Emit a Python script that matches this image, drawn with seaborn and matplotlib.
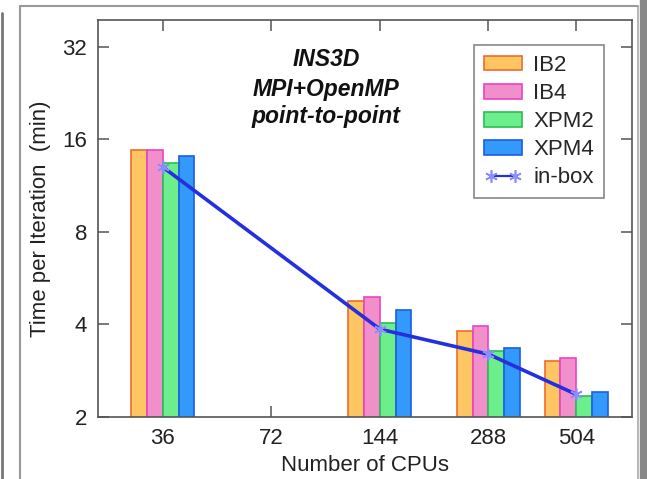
import matplotlib
matplotlib.use("Agg")
import matplotlib.pyplot as plt
import numpy as np
import pandas as pd
import seaborn as sns
from matplotlib.lines import Line2D
from matplotlib.patches import Patch

# ── Data ──────────────────────────────────────────────────────────────────────
cpus = [36, 144, 288, 504]
tick_cpus = [36, 72, 144, 288, 504]
series = ["IB2", "IB4", "XPM2", "XPM4"]
ib2 = [14.8, 4.75, 3.80, 3.05]
ib4 = [14.8, 4.90, 3.95, 3.10]
xpm2 = [13.4, 4.05, 3.27, 2.34]
xpm4 = [14.1, 4.47, 3.35, 2.41]
inbox = [13.0, 3.86, 3.20, 2.37]

fills = ["#fec663", "#f08fca", "#6cee8c", "#3399fa"]
edges = ["#f06a2e", "#e844c6", "#2dbb55", "#1a5fe0"]

df = pd.DataFrame({
    "cpus": np.tile(cpus, len(series)),
    "series": np.repeat(series, len(cpus)),
    "time": ib2 + ib4 + xpm2 + xpm4,
})

sns.set_style("ticks")
plt.rcParams["font.family"] = ["Liberation Sans", "DejaVu Sans"]
plt.rcParams["xtick.direction"] = "in"
plt.rcParams["ytick.direction"] = "in"

fig = plt.figure(figsize=(6.47, 4.79), dpi=100)
ax = fig.add_axes([98 / 647, 1 - 417 / 479, (632 - 98) / 647, (417 - 20) / 479])

# log2 x through seaborn; y goes log after the bars are drawn from zero
sns.barplot(data=df, x="cpus", y="time", hue="series", hue_order=series,
            palette=fills, native_scale=True, log_scale=(2, False), width=0.72,
            gap=0, legend=False, saturation=1, ax=ax)
for cont, ec in zip(ax.containers, edges):
    for bar in cont:
        bar.set_edgecolor(ec)
        bar.set_linewidth(1.2)
ax.set_yscale("log", base=2)

sns.lineplot(x=cpus, y=inbox, color="#2430e0", lw=2.6, marker=(6, 2, 0),
             markersize=9, markeredgecolor="#8a8cff", markeredgewidth=1.2,
             legend=False, ax=ax, zorder=5)

# ── Axes ──────────────────────────────────────────────────────────────────────
ax.set_xlim(23.8, 720)
ax.set_ylim(2, 39.1)
ax.set_xticks(tick_cpus)
ax.set_xticklabels([str(c) for c in tick_cpus])
ax.set_yticks([2, 4, 8, 16, 32])
ax.set_yticklabels(["2", "4", "8", "16", "32"])
ax.minorticks_off()
ax.tick_params(axis="both", which="major", length=8, width=1.1, color="#555555",
               labelsize=16, labelcolor="#222222", top=True, right=True, pad=8)
for sp in ax.spines.values():
    sp.set_color("#555555")
    sp.set_linewidth(1.2)
ax.set_xlabel("Number of CPUs", fontsize=16, color="#222222", labelpad=4)
ax.set_ylabel("Time per Iteration  (min)", fontsize=16, color="#222222", labelpad=8)

for txt, yy in zip(["INS3D", "MPI+OpenMP", "point-to-point"], [60, 89, 117]):
    fig.text(326 / 647, 1 - yy / 479, txt, ha="center", va="center",
             fontsize=16.5, fontweight="bold", fontstyle="italic", color="#111111")

handles = [Patch(facecolor=f, edgecolor=e, linewidth=1.2) for f, e in zip(fills, edges)]
handles.append(Line2D([], [], color="#2430e0", lw=1.6, marker=(6, 2, 0), markersize=9,
                      markeredgecolor="#8a8cff", markeredgewidth=1.2))
leg = ax.legend(handles, series + ["in-box"], loc="upper right",
                bbox_to_anchor=(604 / 647, 1 - 45 / 479), bbox_transform=fig.transFigure,
                fontsize=16, fancybox=False, framealpha=1, edgecolor="#888888",
                handlelength=1.7, handleheight=0.63, labelspacing=0.32,
                handletextpad=0.5, borderpad=0.45, borderaxespad=0, numpoints=2)
leg.get_frame().set_linewidth(1.2)

# ── Photo frame around the chart ──────────────────────────────────────────────
for xs, ys, c, lw in [([20, 20], [479, 6], "#999999", 1.5),
                      ([20, 638], [6, 6], "#999999", 1.5),
                      ([638, 638], [6, 479], "#aaaaaa", 1.2),
                      ([2, 2], [479, 13], "#777777", 2.0),
                      ([644, 644], [0, 479], "#888888", 6.0)]:
    fig.add_artist(Line2D([x / 647 for x in xs], [1 - y / 479 for y in ys],
                          transform=fig.transFigure, color=c, lw=lw))

fig.savefig("out.png", dpi=100)
